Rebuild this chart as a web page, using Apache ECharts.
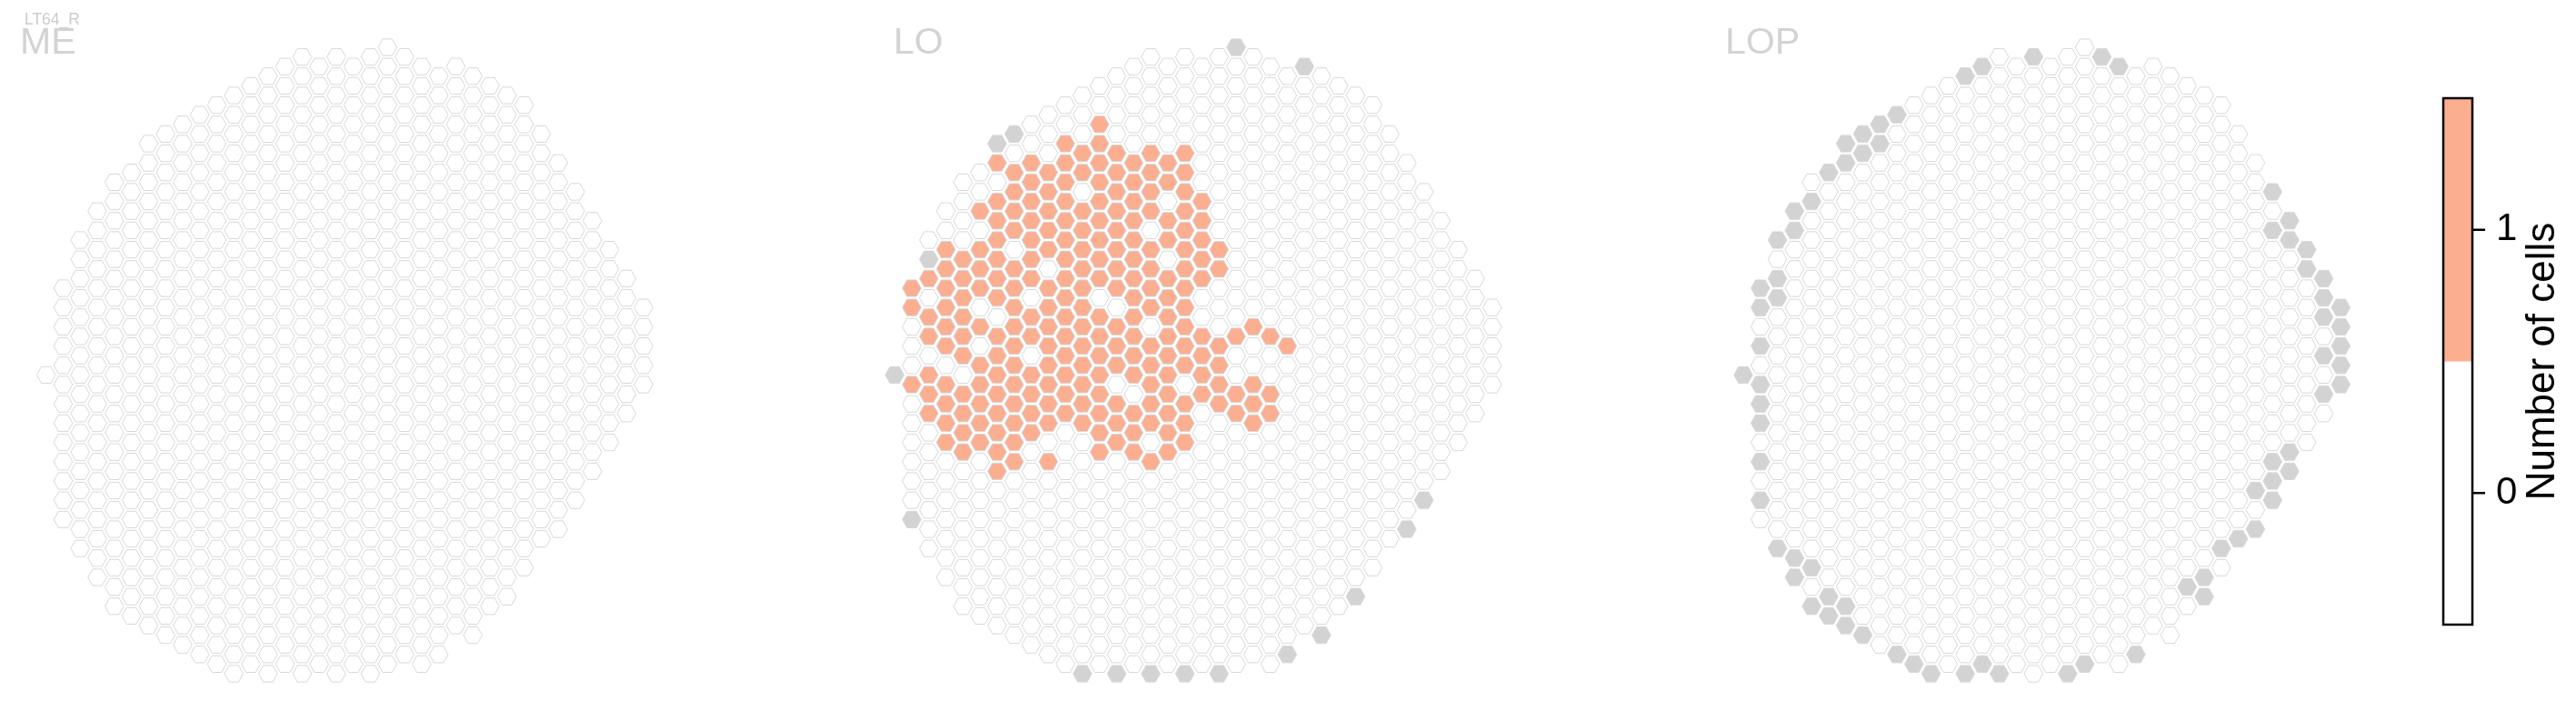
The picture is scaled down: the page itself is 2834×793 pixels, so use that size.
<!DOCTYPE html>
<html>
<head>
<meta charset="utf-8">
<script src="https://cdn.jsdelivr.net/npm/echarts@6/dist/echarts.min.js"></script>
<style>
html,body{margin:0;padding:0;background:#fff;}
#chart{width:2834px;height:793px;}
</style>
</head>
<body>
<div id="chart"></div>
<script>
// ---- data ----
// hex grid: column index 0..35, half-row index h (even columns even h, odd columns odd h)
const colTop    = [36,27,22,19,16,15,12,11,10,9,8,7,6,5,4,3,4,3,4,3,2,3,4,5,4,5,6,7,8,11,14,17,20,23,26,29];
const colBottom = [36,51,54,57,60,61,62,63,64,65,66,67,66,67,66,67,66,67,66,67,66,65,66,65,62,63,60,59,56,53,52,49,46,43,40,37];

const panelNames = ['ME', 'LO', 'LOP'];
const subtitle = 'LT64_R';

// LO: cells with 1 cell, listed per half-row: [h, [columns]]
const loOrangeRows = [
  [10,[12]],
  [12,[10,12]],
  [13,[11,13,15,17]],
  [14,[6,8,10,12,14,16]],
  [15,[7,9,11,13,15,17]],
  [16,[8,10,12,14,16]],
  [17,[7,9,13,15,17]],
  [18,[6,8,10,12,14,18]],
  [19,[5,7,9,11,13,15,17]],
  [20,[6,8,10,12,14,16,18]],
  [21,[7,9,11,13,17]],
  [22,[6,8,10,12,14,16,18]],
  [23,[3,5,9,11,13,15,17,19]],
  [24,[4,6,8,10,12,14,18]],
  [25,[3,5,7,11,13,15,17,19]],
  [26,[2,4,6,8,10,12,14,16,18]],
  [27,[1,3,5,7,9,11,13,15,17]],
  [28,[4,6,10,14,16]],
  [29,[1,3,7,9,11,15,17]],
  [30,[2,4,8,10,12,14,16]],
  [31,[3,5,7,9,11,13,17,21]],
  [32,[2,4,6,8,10,12,14,16,18,20,22]],
  [33,[3,7,9,11,13,15,17,19,23]],
  [34,[4,6,10,12,14,16,18]],
  [35,[5,7,9,11,13,15,17,19]],
  [36,[2,6,8,10,12,14,16,18]],
  [37,[1,3,5,7,9,11,15,19,21]],
  [38,[2,4,6,8,10,12,16,18,20,22]],
  [39,[3,5,7,9,11,13,15,17,19,21]],
  [40,[2,4,6,8,10,12,14,16,20,22]],
  [41,[3,5,7,9,11,13,15,17,21]],
  [42,[4,6,8,12,14,16]],
  [43,[3,5,7,13,17]],
  [44,[4,6,12,14,16]],
  [45,[7,9,15]],
  [46,[6]]
];

// columns absent from the neuropil (grey): [column, half-row]
const loMissing = [[20,2],[24,4],[7,11],[6,12],[2,24],[0,36],[1,51],[31,49],[30,52],[27,59],[25,63],[23,65],[11,67],[13,67],[15,67],[17,67],[19,67]];
const lopMissing = [
  [14,4],[17,3],[13,5],[21,3],[22,4],
  [9,9],[8,10],[7,11],[8,12],[6,12],[7,13],[6,14],[5,15],
  [4,18],[3,19],[3,21],[2,22],[2,26],[1,27],[2,28],[1,29],
  [1,33],[0,36],[1,37],[1,39],[1,41],[1,45],[1,49],
  [2,54],[3,55],[4,56],[3,57],[5,59],[4,60],[6,60],[5,61],[6,62],[7,63],
  [9,65],[10,66],[11,67],[13,67],[14,66],[15,67],[19,67],[20,66],[23,65],
  [31,17],[32,20],[31,21],[32,22],[33,23],[33,25],[34,26],[34,28],[35,29],[34,30],[35,31],[35,33],[34,34],[35,35],[35,37],[34,38],
  [32,44],[31,45],[32,46],[31,47],[30,48],[31,49],[30,52],[29,53],[28,54],[27,57],[26,58],[27,59]
];

// colour bar
const cbTicks = [0, 1];
const cbBands = [[-0.5, 0.5, 0], [0.5, 1.5, 1]];
const cbTitle = 'Number of cells';

// ---- styling ----
const FONT = 'Liberation Sans';
const ORANGE = '#fcae91';
const GREY = '#d3d3d3';
const EDGE = '#d8d8d8';
const panelLeft = [50.7, 984.3, 1917.9];
const labelLeft = [22, 983, 1898];

function key(c, h) { return c + '_' + h; }

function buildPanel(orangeRows, missing) {
  const orange = new Set();
  (orangeRows || []).forEach(function (r) { r[1].forEach(function (c) { orange.add(key(c, r[0])); }); });
  const miss = new Set();
  (missing || []).forEach(function (m) { miss.add(key(m[0], m[1])); });
  const out = [];
  for (let c = 0; c < colTop.length; c++) {
    for (let h = colTop[c]; h <= colBottom[c]; h += 2) {
      const k = key(c, h);
      out.push([c, h, miss.has(k) ? -1 : (orange.has(k) ? 1 : 0)]);
    }
  }
  return out;
}

const panelData = [
  buildPanel(null, null),
  buildPanel(loOrangeRows, loMissing),
  buildPanel(null, lopMissing)
];

function hexItem(params, api) {
  const p = api.coord([api.value(0), api.value(1)]);
  const s = api.size([1, 1]);
  const R = s[0] * 0.55, H = s[1] * 0.86;
  const v = api.value(2);
  const fill = v === 1 ? ORANGE : (v === -1 ? GREY : '#ffffff');
  return {
    type: 'polygon',
    shape: { points: [[p[0] + R, p[1]], [p[0] + R / 2, p[1] + H], [p[0] - R / 2, p[1] + H],
                      [p[0] - R, p[1]], [p[0] - R / 2, p[1] - H], [p[0] + R / 2, p[1] - H]] },
    style: { fill: fill, stroke: EDGE, lineWidth: 1 }
  };
}

const grids = [], xAxes = [], yAxes = [], series = [], titles = [];
for (let i = 0; i < 3; i++) {
  grids.push({ left: panelLeft[i], top: 52, width: 657.3, height: 689 });
  xAxes.push({ gridIndex: i, type: 'value', min: 0, max: 35, show: false });
  yAxes.push({ gridIndex: i, type: 'value', min: 2, max: 67, inverse: true, show: false });
  series.push({ type: 'custom', xAxisIndex: i, yAxisIndex: i, renderItem: hexItem, data: panelData[i], silent: true });
  titles.push({ text: panelNames[i], left: labelLeft[i], top: 27, padding: 0,
    textStyle: { fontFamily: FONT, fontSize: 41, fontWeight: 'normal', color: '#d3d3d3', lineHeight: 41 } });
}
titles.push({ text: subtitle, left: 27, top: 13.5, padding: 0,
  textStyle: { fontFamily: FONT, fontSize: 17.5, fontWeight: 'normal', color: '#cccccc', lineHeight: 17.5 } });

// colour bar grid
grids.push({ left: 2688, top: 108, width: 32, height: 579 });
xAxes.push({ gridIndex: 3, type: 'value', min: 0, max: 1, show: false });
yAxes.push({
  gridIndex: 3, type: 'value', min: -0.5, max: 1.5, position: 'right',
  axisLine: { show: false },
  splitLine: { show: false },
  axisTick: { show: false },
  axisLabel: { show: true, customValues: cbTicks, fontFamily: FONT, fontSize: 42, color: '#000', margin: 26 },
  name: cbTitle, nameLocation: 'middle', nameGap: 56, nameRotate: 90,
  nameTextStyle: { fontFamily: FONT, fontSize: 44, color: '#000' }
});
series.push({
  type: 'custom', xAxisIndex: 3, yAxisIndex: 3, silent: true, data: cbBands,
  renderItem: function (params, api) {
    const a = api.coord([0, api.value(1)]);
    const b = api.coord([1, api.value(0)]);
    return { type: 'rect', shape: { x: a[0], y: a[1], width: b[0] - a[0], height: b[1] - a[1] },
             style: { fill: api.value(2) === 1 ? ORANGE : '#ffffff' } };
  }
});
series.push({
  type: 'custom', xAxisIndex: 3, yAxisIndex: 3, silent: true, data: [[-0.5, 1.5]], z: 5,
  renderItem: function (params, api) {
    const a = api.coord([0, api.value(1)]);
    const b = api.coord([1, api.value(0)]);
    return { type: 'rect', shape: { x: a[0], y: a[1], width: b[0] - a[0], height: b[1] - a[1] },
             style: { fill: 'none', stroke: '#000', lineWidth: 2.5 } };
  }
});
// tick marks of the colour bar, placed through the bar's own scale
series.push({
  type: 'custom', xAxisIndex: 3, yAxisIndex: 3, silent: true, z: 5,
  data: cbTicks.map(function (t) { return [1, t]; }),
  renderItem: function (params, api) {
    const p = api.coord([api.value(0), api.value(1)]);
    return { type: 'line', shape: { x1: p[0], y1: p[1], x2: p[0] + 14, y2: p[1] },
             style: { stroke: '#000', lineWidth: 2.5 } };
  }
});

const chart = echarts.init(document.getElementById('chart'), null, { renderer: 'canvas' });
chart.setOption({
  animation: false,
  backgroundColor: '#ffffff',
  textStyle: { fontFamily: FONT },
  title: titles,
  grid: grids,
  xAxis: xAxes,
  yAxis: yAxes,
  series: series
});
</script>
</body>
</html>
